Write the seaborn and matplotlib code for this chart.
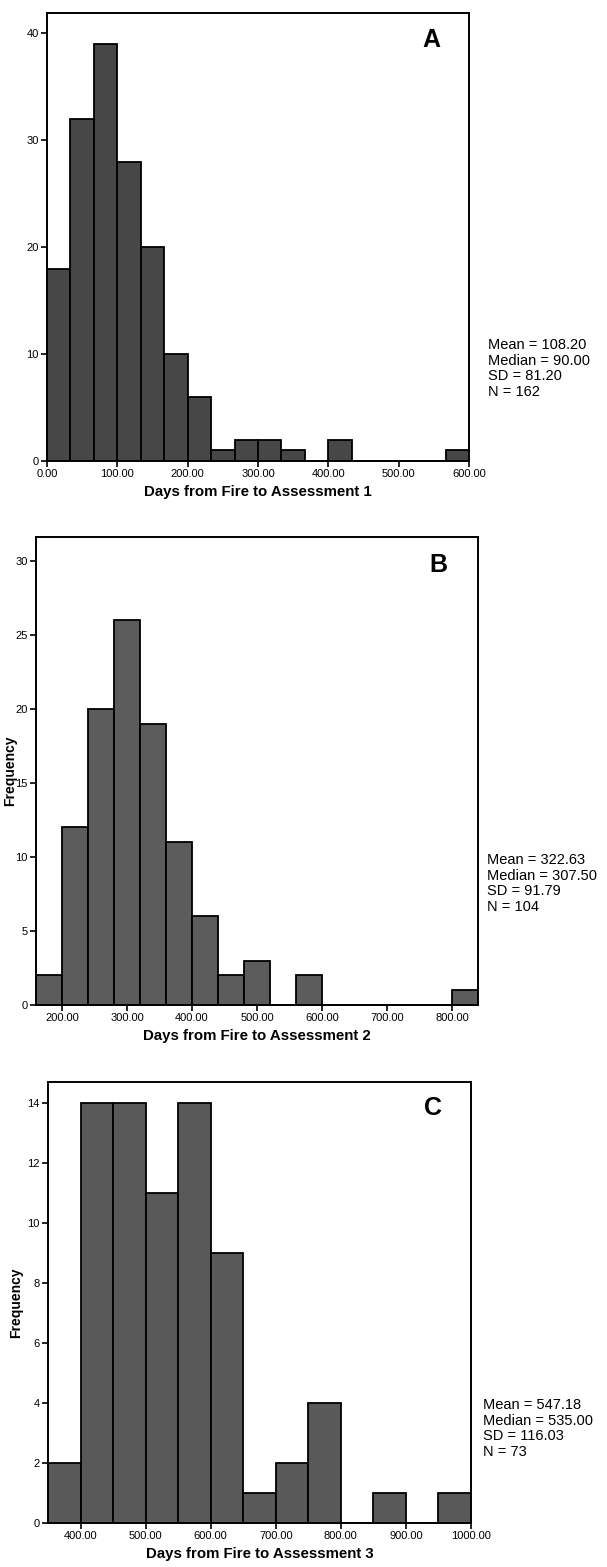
import numpy as np
import pandas as pd
import matplotlib
matplotlib.use("Agg")
import matplotlib.pyplot as plt
import seaborn as sns

# ---- data ----
edges_a = [float(v) for v in np.linspace(0, 600, 19)]
counts_a = [18, 32, 39, 28, 20, 10, 6, 1, 2, 2, 1, 0, 2, 0, 0, 0, 0, 1]
stats_a = ["Mean = 108.20", "Median = 90.00", "SD = 81.20", "N = 162"]

edges_b = [float(v) for v in np.arange(160, 841, 40)]
counts_b = [2, 12, 20, 26, 19, 11, 6, 2, 3, 0, 2, 0, 0, 0, 0, 0, 1]
stats_b = ["Mean = 322.63", "Median = 307.50", "SD = 91.79", "N = 104"]

edges_c = [float(v) for v in np.arange(350, 1001, 50)]
counts_c = [2, 14, 14, 11, 14, 9, 1, 2, 4, 0, 1, 0, 1]
stats_c = ["Mean = 547.18", "Median = 535.00", "SD = 116.03", "N = 73"]

xlabels = ["Days from Fire to Assessment 1",
           "Days from Fire to Assessment 2",
           "Days from Fire to Assessment 3"]
letters = ["A", "B", "C"]
xticks_list = [np.arange(0, 601, 100), np.arange(200, 801, 100), np.arange(400, 1001, 100)]
yticks_list = [np.arange(0, 41, 10), np.arange(0, 31, 5), np.arange(0, 15, 2)]
ylims = [(0, 41.9), (0, 31.6), (0, 14.7)]
xlims = [(0, 600), (160, 840), (350, 1000)]
ylabels = ["", "Frequency", "Frequency"]

sns.set_theme(style="ticks")
plt.rcParams['font.family'] = ['Liberation Sans', 'DejaVu Sans']
plt.rcParams['text.color'] = 'black'
plt.rcParams['axes.labelcolor'] = 'black'

W, H = 607, 1567
fig = plt.figure(figsize=(W / 100, H / 100), dpi=100)

# axes boxes in pixels: left, right, top, bottom
boxes = [(47, 469, 13, 461), (36, 478, 537, 1005), (48, 471, 1082, 1523)]
ylabel_x = [17, 17, 23]   # right edge of the rotated y label, px
stat_pos = [(488, 338), (487, 853), (483, 1398)]
colors = ["#474747", "#5c5c5c", "#595959"]

panels = [(edges_a, counts_a, stats_a), (edges_b, counts_b, stats_b), (edges_c, counts_c, stats_c)]

for i, (edges, counts, stats) in enumerate(panels):
    l, r, t, b = boxes[i]
    ax = fig.add_axes([l / W, 1 - b / H, (r - l) / W, (b - t) / H])
    e = np.array(edges)
    centers = (e[:-1] + e[1:]) / 2
    df = pd.DataFrame({"days": centers, "count": counts})
    sns.histplot(data=df, x="days", weights="count", bins=edges, ax=ax,
                 color=colors[i], edgecolor="black", linewidth=1.3, alpha=1.0)
    ax.set_xlim(*xlims[i])
    ax.set_ylim(*ylims[i])
    ax.set_xticks(xticks_list[i])
    ax.set_xticklabels([f"{v:.2f}" for v in xticks_list[i]], fontsize=8)
    ax.set_yticks(yticks_list[i])
    ax.set_yticklabels([str(v) for v in yticks_list[i]], fontsize=8)
    ax.tick_params(axis="both", direction="out", length=4, width=1.2, pad=2,
                   colors="black", labelcolor="black")
    for s in ax.spines.values():
        s.set_visible(True)
        s.set_color("black")
        s.set_linewidth(1.4)
    ax.set_xlabel(xlabels[i], fontsize=10.8, fontweight="bold", labelpad=4)
    ax.set_ylabel(ylabels[i], fontsize=10, fontweight="bold")
    ax.yaxis.set_label_coords((ylabel_x[i] - l) / (r - l), 0.5)
    ax.text(0.91, 0.94, letters[i], transform=ax.transAxes, ha="center", va="center",
            fontsize=18, fontweight="bold")
    sx, sy = stat_pos[i]
    fig.text(sx / W, 1 - sy / H, "\n".join(stats), ha="left", va="top",
             fontsize=10.5, linespacing=1.15)

fig.savefig("out.png", dpi=100, facecolor="white")
